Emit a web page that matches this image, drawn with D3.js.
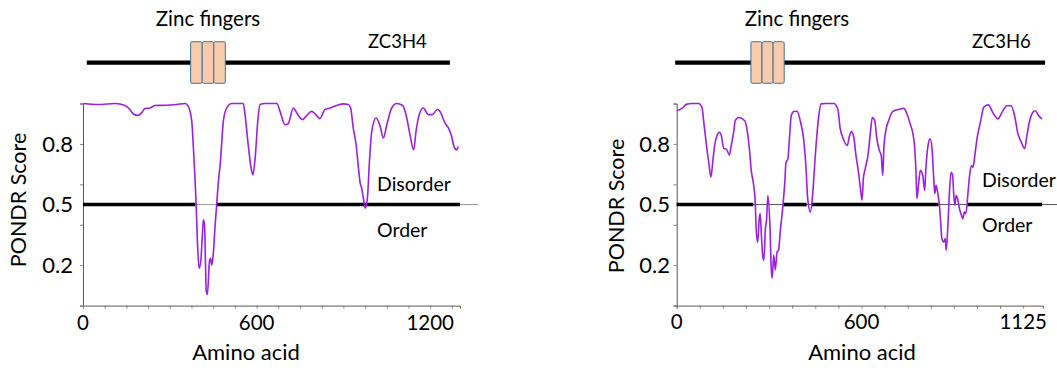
<!DOCTYPE html>
<html>
<head>
<meta charset="utf-8">
<script src="https://cdn.jsdelivr.net/npm/d3@7"></script>
<style>
  body { margin: 0; background: #fff; }
  svg { display: block; font-family: Lato, "Open Sans", sans-serif; }
</style>
</head>
<body>
<script>
// ZC3H4 PONDR profile (amino acid position, score)
var zc3h4Aa = [1, 53, 111, 145, 162, 174, 191, 203, 214, 232,
  249, 289, 324, 353, 364, 376, 381, 387, 391, 395,
  401, 407, 412, 416, 420, 426, 430, 437, 441, 445,
  450, 456, 462, 468, 474, 479, 485, 497, 514, 554,
  560, 571, 581, 587, 595, 604, 612, 629, 670, 681,
  698, 709, 727, 739, 750, 759, 773, 790, 808, 819,
  836, 854, 877, 900, 917, 925, 934, 944, 952, 958,
  963, 969, 975, 983, 990, 998, 1013, 1027, 1038, 1050,
  1067, 1084, 1105, 1119, 1130, 1143, 1151, 1162, 1176, 1194,
  1207, 1225, 1234, 1251, 1263, 1274, 1282, 1292, 1297];
var zc3h4Score = [1.0, 0.995, 1.0, 0.99, 0.97, 0.948, 0.941, 0.955, 0.975, 0.978,
  0.99, 0.991, 0.995, 1.0, 0.986, 0.912, 0.796, 0.631, 0.499, 0.334,
  0.185, 0.218, 0.334, 0.424, 0.40, 0.07, 0.055, 0.218, 0.234, 0.2,
  0.251, 0.383, 0.499, 0.614, 0.697, 0.796, 0.912, 0.978, 1.0, 1.0,
  0.945, 0.796, 0.681, 0.647, 0.730, 0.912, 0.995, 1.0, 1.0, 0.961,
  0.895, 0.90, 0.978, 0.953, 0.93, 0.920, 0.94, 0.961, 0.94, 0.925,
  0.970, 0.978, 0.99, 0.998, 0.995, 0.978, 0.879, 0.796, 0.681, 0.606,
  0.582, 0.532, 0.482, 0.532, 0.713, 0.862, 0.928, 0.887, 0.829, 0.895,
  0.978, 1.0, 0.99, 0.928, 0.846, 0.771, 0.862, 0.945, 0.978, 0.945,
  0.945, 0.970, 0.96, 0.904, 0.879, 0.838, 0.788, 0.771, 0.788];
var zc3h4Disorder = [[0, 388], [462, 1303]];
var zc3h4Fingers = [[372, 412], [412, 452], [452, 492]];
var zc3h4XTicks = [0, 600, 1200];

// ZC3H6 PONDR profile
var zc3h6Aa = [0, 17, 33, 50, 71, 82, 88, 93, 98, 104,
  111, 117, 123, 131, 138, 145, 153, 160, 171, 177,
  185, 190, 201, 221, 228, 236, 242, 250, 255, 258,
  263, 268, 271, 275, 279, 283, 288, 292, 296, 303,
  307, 310, 315, 320, 326, 331, 336, 344, 351, 355,
  361, 366, 372, 380, 391, 401, 412, 420, 425, 434,
  442, 450, 459, 469, 483, 510, 523, 531, 539, 554,
  560, 567, 575, 582, 591, 596, 602, 606, 612, 621,
  629, 635, 643, 650, 658, 664, 669, 673, 680, 688,
  701, 726, 737, 748, 758, 766, 773, 777, 780, 786,
  791, 799, 805, 809, 816, 823, 829, 834, 838, 842,
  848, 853, 857, 861, 867, 872, 875, 881, 885, 891,
  896, 899, 903, 907, 912, 918, 923, 929, 934, 939,
  946, 951, 957, 962, 968, 975, 986, 997, 1011, 1029,
  1043, 1056, 1072, 1086, 1097, 1108, 1119, 1130, 1137, 1145,
  1156, 1164, 1175, 1186];
var zc3h6Score = [0.964, 0.976, 0.997, 1.0, 1.0, 0.981, 0.907, 0.841, 0.776, 0.710,
  0.636, 0.710, 0.792, 0.841, 0.858, 0.841, 0.776, 0.776, 0.746, 0.792,
  0.858, 0.915, 0.931, 0.915, 0.874, 0.776, 0.669, 0.595, 0.512, 0.381,
  0.313, 0.430, 0.455, 0.348, 0.250, 0.225, 0.381, 0.430, 0.545, 0.381,
  0.184, 0.135, 0.250, 0.176, 0.266, 0.274, 0.364, 0.480, 0.611, 0.710,
  0.726, 0.825, 0.940, 0.960, 0.962, 0.915, 0.825, 0.677, 0.537, 0.463,
  0.562, 0.743, 0.907, 0.998, 1.0, 1.0, 0.973, 0.874, 0.833, 0.792,
  0.833, 0.861, 0.833, 0.743, 0.652, 0.586, 0.521, 0.628, 0.677, 0.743,
  0.858, 0.931, 0.915, 0.825, 0.767, 0.743, 0.644, 0.792, 0.874, 0.915,
  0.960, 0.973, 0.976, 0.948, 0.899, 0.858, 0.776, 0.660, 0.529, 0.611,
  0.669, 0.644, 0.570, 0.677, 0.792, 0.825, 0.776, 0.644, 0.554, 0.595,
  0.554, 0.496, 0.414, 0.332, 0.315, 0.332, 0.274, 0.414, 0.545, 0.660,
  0.644, 0.562, 0.496, 0.545, 0.529, 0.480, 0.455, 0.430, 0.463, 0.455,
  0.562, 0.644, 0.693, 0.685, 0.743, 0.825, 0.907, 0.981, 0.993, 0.948,
  0.924, 0.956, 0.989, 0.989, 0.940, 0.850, 0.808, 0.776, 0.841, 0.907,
  0.956, 0.964, 0.940, 0.924];
var zc3h6Disorder = [[0, 249], [346, 422], [438, 850], [943, 1186]];
var zc3h6Fingers = [[241, 277], [277, 313], [313, 349]];
var zc3h6XTicks = [0, 600, 1125];

var yTicks = [0, 0.2, 0.4, 0.6, 0.8, 1.0];
var yTickLabels = [0.2, 0.5, 0.8];
var threshold = 0.5;

var panels = [
  { name: "ZC3H4", length: 1303, aa: zc3h4Aa, score: zc3h4Score, disorder: zc3h4Disorder,
    fingers: zc3h4Fingers, xTicks: zc3h4XTicks, protein: [13, 1268],
    x0: 83, x1: 460, refExtra: 18, refColor: "#9a9a9a", yLabelRight: 73,
    zincX: 208, nameX: 368, disX: 377, disY: 191, ordY: 236.7, yTitleX: 18, yTitleY: 200,
    xTitleX: 246, xTickY: 330 },
  { name: "ZC3H6", length: 1189, aa: zc3h6Aa, score: zc3h6Score, disorder: zc3h6Disorder,
    fingers: zc3h6Fingers, xTicks: zc3h6XTicks, protein: [-5, 1196],
    x0: 676.7, x1: 1042.9, refExtra: 15, refColor: "#555", yLabelRight: 670,
    zincX: 797, nameX: 972, disX: 982, disY: 186.7, ordY: 231.7, yTitleX: 616, yTitleY: 206,
    xTitleX: 862, xTickY: 328.5 }
];

var W = 1057, H = 372;
var svg = d3.select("body").append("svg").attr("width", W).attr("height", H);

var y = d3.scaleLinear().domain([0, 1]).range([305.6, 103.5]);

panels.forEach(function (p) {
  var x = d3.scaleLinear().domain([0, p.length]).range([p.x0, p.x1]);
  var g = svg.append("g");

  // protein schematic
  g.append("line")
    .attr("x1", x(p.protein[0])).attr("x2", x(p.protein[1]))
    .attr("y1", 62.7).attr("y2", 62.7)
    .attr("stroke", "#000").attr("stroke-width", 4.2);
  g.selectAll("rect.zf").data(p.fingers).enter().append("rect")
    .attr("class", "zf")
    .attr("x", function (d) { return x(d[0]); })
    .attr("width", function (d) { return x(d[1]) - x(d[0]); })
    .attr("y", 41.7).attr("height", 41.6)
    .attr("rx", 1.5)
    .attr("fill", "#f8cbad").attr("stroke", "#41719c").attr("stroke-width", 1);
  g.append("text").attr("x", p.zincX).attr("y", 26)
    .attr("text-anchor", "middle").attr("font-size", 20.5).text("Zinc fingers");
  g.append("text").attr("x", p.nameX).attr("y", 48.3)
    .attr("font-size", 18.5).text(p.name);

  // axes
  var yAxis = d3.axisLeft(y).tickValues(yTicks).tickSize(3).tickFormat("");
  var ya = g.append("g").attr("transform", "translate(" + p.x0 + ",0)").call(yAxis);
  var minor = d3.range(0, p.length, 75);
  var xAxis = d3.axisBottom(x).tickValues(minor).tickSize(3).tickFormat("");
  var xa = g.append("g").attr("transform", "translate(0," + y(0) + ")").call(xAxis);
  [ya, xa].forEach(function (a) {
    a.select(".domain").attr("stroke", "#595959");
    a.selectAll(".tick line").attr("stroke", "#7f7f7f");
  });

  g.selectAll("text.yl").data(yTickLabels).enter().append("text")
    .attr("class", "yl")
    .attr("x", p.yLabelRight).attr("y", function (d) { return y(d); })
    .attr("dy", "0.36em").attr("text-anchor", "end").attr("font-size", 22)
    .text(function (d) { return d3.format(".1f")(d); });
  g.selectAll("text.xl").data(p.xTicks).enter().append("text")
    .attr("class", "xl")
    .attr("x", function (d) { return x(d); }).attr("y", p.xTickY)
    .attr("text-anchor", "middle").attr("font-size", 20.5)
    .text(function (d) { return d; });

  g.append("text")
    .attr("transform", "translate(" + p.yTitleX + "," + p.yTitleY + ") rotate(-90)")
    .attr("dy", "0.36em").attr("text-anchor", "middle").attr("font-size", 21.5)
    .text("PONDR Score");
  g.append("text").attr("x", p.xTitleX).attr("y", 360)
    .attr("text-anchor", "middle").attr("font-size", 22).text("Amino acid");

  // threshold: thin reference line + thick disorder segments
  g.append("line")
    .attr("x1", p.x0).attr("x2", p.x1 + p.refExtra)
    .attr("y1", y(threshold)).attr("y2", y(threshold))
    .attr("stroke", p.refColor).attr("stroke-width", 1);
  g.selectAll("line.dis").data(p.disorder).enter().append("line")
    .attr("class", "dis")
    .attr("x1", function (d) { return x(d[0]); })
    .attr("x2", function (d) { return x(d[1]); })
    .attr("y1", y(threshold)).attr("y2", y(threshold))
    .attr("stroke", "#000").attr("stroke-width", 3.6);

  // PONDR curve
  var pts = p.aa.map(function (a, i) { return [a, p.score[i]]; });
  var line = d3.line()
    .x(function (d) { return x(d[0]); })
    .y(function (d) { return y(d[1]); })
    .curve(d3.curveMonotoneX);
  g.append("path").datum(pts)
    .attr("d", line)
    .attr("fill", "none").attr("stroke", "#9d1fe0").attr("stroke-width", 1.6);

  g.append("text").attr("x", p.disX).attr("y", p.disY)
    .attr("font-size", 19.5).text("Disorder");
  g.append("text").attr("x", p.disX).attr("y", p.ordY)
    .attr("font-size", 19.5).text("Order");
});
</script>
</body>
</html>
